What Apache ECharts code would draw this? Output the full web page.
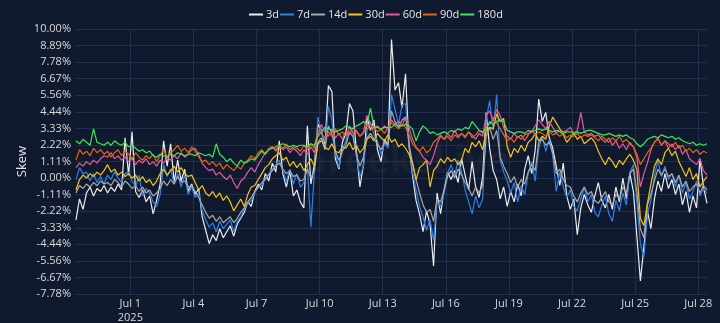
<!DOCTYPE html>
<html>
<head>
<meta charset="utf-8">
<script src="https://cdn.jsdelivr.net/npm/echarts@6/dist/echarts.min.js"></script>
<style>
html,body{margin:0;padding:0;background:#101a2e;}
#c{width:720px;height:323px;}
</style>
</head>
<body>
<div id="c"></div>
<script>
// time base: first sample Jun 28 2025 10:00 UTC, one sample every 4 hours
const startTime = Date.UTC(2025, 5, 28, 10);
const stepHours = 4;
const endTime = Date.UTC(2025, 6, 28, 10);

const seriesNames = ['3d', '7d', '14d', '30d', '60d', '90d', '180d'];
const seriesColors = ['#ececec', '#2f7fe6', '#a9a9a9', '#f5c314', '#e8589f', '#e4660f', '#45e356'];

const tickMonthDays = [1, 4, 7, 10, 13, 16, 19, 22, 25, 28];
// y gridlines are every 10/9 % from -70/9 % to 10 %
const yTickLabels = ['-7.78%','-6.67%','-5.56%','-4.44%','-3.33%','-2.22%','-1.11%','0.00%','1.11%','2.22%','3.33%','4.44%','5.56%','6.67%','7.78%','8.89%','10.00%'];

const s3d = [
-2.8,-1.4,-2.1,
-1.0,-0.6,-1.2,-0.7,-0.9,-0.5,
-1.0,-0.6,-0.9,-0.4,-0.8,2.7,
0.2,3.1,-0.9,-1.3,-0.8,-1.6,
-1.2,-2.4,-1.5,-0.4,2.5,0.8,
2.3,-0.3,1.2,-0.2,0.6,-0.9,
-0.4,-1.1,-0.7,-2.6,-3.5,-4.4,
-3.8,-4.2,-3.4,-4.0,-3.6,-3.2,
-3.9,-3.1,-2.7,-2.3,-1.6,-1.9,
-0.9,-0.4,-0.8,0.3,-0.2,1.0,
0.4,2.5,0.3,-0.6,0.5,-1.2,
-0.8,-1.6,-2.0,3.5,-0.4,0.9,
3.6,3.2,2.1,6.2,5.8,1.3,
0.6,2.4,3.0,5.0,4.5,1.8,
-0.6,0.9,4.1,3.2,3.9,1.9,
1.1,2.6,2.2,9.3,5.9,6.4,
4.7,7.0,2.1,0.2,-1.5,-2.4,
-3.6,-2.2,-3.1,-5.9,-1.0,-2.4,
-0.8,0.4,-0.1,0.5,-0.3,1.3,
0.2,-0.8,1.1,-0.6,-1.3,0.1,
4.4,2.0,0.5,-0.1,-1.4,-0.6,
-1.9,-0.9,-1.6,-0.4,-1.2,0.6,
1.5,0.3,1.9,5.3,3.8,4.4,
2.7,2.0,0.8,-0.5,1.0,-1.2,
-2.1,-1.4,-3.8,-2.0,-1.1,-1.8,
-2.3,-1.2,-0.3,-1.5,-2.0,-1.1,
-2.1,-0.6,-1.6,0.0,-1.4,0.3,
-0.9,-3.9,-6.9,-4.6,-2.2,-3.4,
-1.4,-0.2,-0.9,0.3,-0.7,-0.1,
-1.1,-0.4,-1.8,-0.9,-2.3,-1.2,
-2.0,1.3,-0.6,-1.7
];

const s7d = [
-0.1,0.7,0.3,
0.4,-0.2,0.3,-0.3,0.1,-0.4,
0.2,-0.1,0.4,0.0,-0.3,0.3,
0.4,-0.2,-0.6,0.2,-1.2,-0.7,
-1.0,-1.6,-1.9,-1.1,0.9,0.1,
0.6,-0.4,0.3,-0.6,0.2,-1.1,
-0.6,-1.3,-1.0,-2.2,-2.8,-3.3,
-3.0,-3.6,-2.9,-3.4,-3.1,-2.8,
-3.6,-2.9,-2.6,-2.1,-1.7,-1.5,
-1.0,-0.6,-0.5,0.0,0.3,0.6,
0.9,1.2,0.5,-0.2,0.6,-0.4,
0.3,-0.6,-0.3,0.8,-3.3,0.4,
4.1,3.1,1.9,4.8,3.9,1.6,
0.7,1.9,2.5,3.5,3.1,1.4,
0.1,0.8,3.2,3.8,2.9,2.5,
1.6,2.3,2.0,5.6,4.6,3.6,
4.9,5.0,2.2,0.4,-0.8,-1.9,
-2.6,-3.5,-2.8,-4.2,-1.6,-1.9,
-1.0,0.3,0.9,0.1,1.2,0.4,
-0.8,-1.6,-2.4,-1.2,-2.0,-1.4,
3.9,5.2,3.2,5.6,1.2,0.4,
-0.2,-1.0,-0.3,-1.6,-0.5,-1.1,
0.3,1.1,-0.2,2.0,2.8,1.8,
2.6,1.5,-0.9,0.4,-0.6,-1.3,
-0.8,-1.9,-2.2,-1.4,-0.6,-1.6,
-1.1,-2.3,-2.6,-1.8,-1.2,-2.4,
-2.9,-1.5,-2.2,-1.0,-1.8,0.4,
0.9,-1.6,-4.4,-5.3,-2.4,-1.5,
0.2,1.2,0.1,0.8,-0.1,0.3,
-0.6,0.2,-1.0,-0.3,-1.4,-0.9,
-0.2,-1.2,-0.7,-1.0
];

const s14d = [
-1.0,-0.5,-0.7,
-0.4,-0.6,-0.3,-0.5,-0.2,-0.4,
-0.3,-0.5,-0.1,-0.3,-0.6,-0.2,
-0.4,-0.7,-0.5,-0.9,-0.6,-1.0,
-0.8,-1.2,-1.0,-0.7,-0.2,-0.5,
-0.1,-0.4,0.1,-0.3,-0.2,-0.6,
-0.5,-0.9,-1.3,-1.8,-2.3,-2.7,
-2.5,-2.9,-2.6,-3.0,-2.8,-2.6,
-3.0,-2.7,-2.3,-2.0,-1.6,-1.3,
-0.9,-0.6,-0.3,-0.1,0.2,0.5,
0.8,1.0,0.6,0.3,0.5,0.1,
0.2,-0.2,-0.1,0.6,0.0,0.5,
2.4,2.7,1.9,3.5,3.0,1.8,
1.2,1.8,2.2,3.1,2.8,1.6,
0.8,1.4,2.7,3.0,2.6,2.3,
1.9,2.4,2.2,4.5,3.8,3.4,
3.9,4.1,2.3,1.0,-0.1,-1.0,
-1.8,-2.3,-2.1,-2.9,-1.4,-1.6,
-0.8,0.1,0.5,0.0,0.6,0.2,
-0.3,-0.7,-1.2,-0.6,-1.0,-0.5,
2.8,3.4,2.6,3.2,1.4,0.8,
0.3,-0.3,0.1,-0.6,-0.1,-0.4,
0.4,0.9,0.5,2.4,2.6,2.2,
2.4,1.7,0.3,0.6,-0.1,-0.5,
-0.6,-1.2,-1.6,-1.0,-0.6,-1.1,
-0.9,-1.5,-1.7,-1.3,-0.9,-1.6,
-1.8,-1.1,-1.4,-0.6,-1.0,0.3,
0.6,-0.9,-3.4,-4.0,-1.8,-1.1,
-0.2,0.6,0.2,0.6,0.1,0.3,
-0.3,0.2,-0.6,-0.2,-0.9,-0.6,
-0.4,-1.0,-0.5,-0.8
];

const s30d = [
-0.8,-0.1,0.2,
0.0,0.3,0.1,0.4,0.2,0.5,
0.9,0.4,0.6,0.2,0.4,0.1,
0.3,0.0,0.2,-0.2,0.1,-0.3,
-0.1,-0.5,-0.2,0.3,0.6,0.2,
0.5,0.8,0.4,0.7,0.3,0.1,
0.2,-0.3,-0.8,-0.5,-1.0,-1.2,
-0.9,-1.3,-1.0,-1.5,-1.2,-1.6,
-2.2,-1.8,-1.4,-1.9,-1.1,-0.6,
-0.5,-0.1,0.3,0.7,0.9,1.3,
1.5,1.7,1.2,1.4,0.8,1.1,
0.7,1.0,0.5,0.9,1.3,0.8,
2.3,2.5,2.1,1.9,2.3,1.8,
1.7,2.1,2.0,2.4,1.9,2.2,
1.7,2.0,2.6,2.8,2.5,3.0,
2.7,2.5,2.9,2.4,2.6,2.1,
2.3,2.0,1.6,1.0,-0.1,0.7,
0.9,1.2,-0.6,0.5,0.8,1.3,
1.0,1.4,1.1,1.3,0.9,1.2,
2.0,1.7,2.4,2.1,2.5,1.9,
3.2,3.4,3.3,4.3,3.8,4.0,
2.1,1.4,2.0,1.7,2.2,1.8,
2.4,2.6,3.0,2.5,2.8,2.6,
3.5,4.1,3.7,3.3,2.9,2.4,
2.7,3.0,2.6,2.8,2.3,2.5,
2.7,2.4,1.8,1.3,0.9,1.4,
1.1,0.7,1.2,0.9,1.3,1.6,
1.2,0.6,-2.7,-3.2,-1.7,-0.4,
0.8,1.3,0.9,1.7,2.0,1.5,
1.8,1.1,0.6,0.1,0.7,-0.1,
0.3,-0.6,-0.2,0.1
];

const s60d = [
0.7,1.0,0.8,
1.1,0.9,1.2,1.0,1.3,1.5,
1.4,1.7,1.3,1.5,1.2,1.4,
1.1,1.3,0.9,1.2,1.0,1.3,
0.9,1.1,0.8,1.2,1.0,1.4,
1.2,1.5,1.3,1.7,1.4,1.6,
1.9,2.0,1.6,1.0,0.7,0.5,
0.6,0.2,0.4,0.1,-0.1,0.2,
-0.3,-0.7,-0.2,0.0,0.4,0.7,
0.4,0.9,1.3,1.7,1.9,2.1,
1.8,2.2,1.9,2.1,1.7,2.0,
1.8,1.5,1.9,1.6,2.1,1.7,
2.9,3.6,3.1,2.8,3.3,2.7,
3.0,2.6,3.2,2.9,3.4,3.1,
2.8,3.1,4.2,3.6,3.3,3.5,
3.2,3.5,3.3,3.9,3.6,3.8,
3.5,4.1,3.4,2.6,2.1,1.8,
1.4,1.2,0.9,1.5,2.3,2.8,
2.6,3.0,2.7,3.2,2.8,3.0,
2.7,3.1,2.9,2.6,3.0,2.8,
4.2,4.5,3.9,4.6,4.2,3.4,
2.8,2.6,3.0,2.7,2.9,2.5,
2.9,3.1,3.5,3.9,3.6,3.3,
3.8,3.4,3.0,3.3,3.1,3.2,
3.4,3.0,3.2,4.4,3.1,2.9,
3.0,2.8,2.9,2.6,2.4,2.7,
2.2,2.5,2.0,2.3,1.9,2.4,
2.1,1.4,-0.6,0.3,1.0,1.9,
2.4,2.7,2.2,2.5,2.0,2.3,
1.9,2.2,1.6,1.9,1.3,1.1,
0.9,1.3,0.5,0.2
];

const s90d = [
1.2,1.9,1.6,
1.8,1.5,2.0,1.7,1.9,1.6,
1.8,1.4,1.7,1.9,1.5,1.8,
1.6,1.3,1.7,1.4,1.2,1.5,
1.3,1.6,1.1,1.5,1.9,1.4,
1.7,1.9,2.2,1.8,2.0,1.7,
2.1,1.8,1.4,1.1,1.2,0.9,
1.1,0.8,1.0,0.6,0.9,0.7,
0.5,0.8,0.6,1.0,1.2,1.5,
1.3,1.7,1.9,1.6,2.0,2.1,
1.9,2.2,2.0,2.3,1.9,2.1,
2.0,1.8,2.2,1.9,2.3,2.0,
3.2,3.0,2.7,3.1,2.8,3.3,
2.9,3.1,2.8,3.4,3.0,3.2,
2.8,3.0,3.6,3.2,3.4,3.1,
3.3,3.0,3.4,3.7,3.5,3.3,
3.6,3.4,2.9,2.3,2.0,1.8,
2.1,1.7,1.9,2.4,2.6,2.9,
2.6,2.8,2.5,2.9,2.7,3.0,
2.8,3.1,2.7,2.9,3.2,3.0,
3.4,3.6,3.9,3.7,3.3,2.9,
2.5,2.7,2.4,2.8,2.6,2.9,
3.0,3.2,2.9,3.1,3.0,2.8,
3.1,2.9,3.0,2.8,3.0,2.7,
2.9,2.8,3.0,2.7,2.9,2.8,
2.9,2.7,2.5,2.8,2.6,2.4,
2.7,2.5,2.8,2.4,2.6,2.3,
2.1,1.6,0.9,1.3,1.7,2.0,
2.4,2.6,2.2,2.5,2.3,2.1,
2.4,2.0,2.2,1.8,2.0,1.7,
1.9,1.6,1.8,1.7
];

const s180d = [
2.5,2.3,2.6,
2.4,2.2,3.3,2.4,2.3,2.2,
2.4,2.2,2.5,2.3,2.2,2.4,
2.1,2.2,2.0,1.8,1.9,1.7,
1.8,1.5,1.4,1.6,1.5,1.4,
1.6,1.5,1.7,1.6,1.5,1.6,
1.6,1.5,1.7,1.6,1.5,1.6,
1.4,2.3,1.6,1.4,1.1,1.3,
1.0,0.8,1.2,1.0,1.1,1.3,
1.2,1.5,1.8,1.6,1.9,2.0,
2.1,2.2,2.3,2.2,2.1,2.2,
2.1,2.2,2.2,2.1,2.3,2.2,
2.8,3.1,3.4,3.3,3.2,3.1,
3.2,3.3,3.5,3.4,3.3,3.5,
3.6,3.8,3.6,4.7,3.4,3.4,
3.3,3.4,3.4,3.4,3.6,3.5,
3.5,3.6,3.5,3.3,2.5,3.1,
3.5,3.3,3.0,3.1,2.9,3.0,
3.1,3.0,3.2,3.1,3.3,3.2,
3.4,3.3,3.8,3.5,3.2,3.1,
3.3,3.8,3.6,3.8,3.9,3.8,
3.2,3.1,3.0,3.1,3.1,3.0,
3.2,3.1,3.2,3.3,3.2,3.3,
3.2,3.1,3.2,3.1,3.0,3.1,
3.1,3.0,3.1,3.0,3.1,3.2,
3.2,3.1,3.0,2.9,2.9,3.0,
2.9,2.8,2.9,2.8,2.9,2.7,
2.6,2.3,2.1,2.3,2.6,2.7,
2.8,2.7,2.9,2.8,2.7,2.8,
2.6,2.7,2.5,2.4,2.3,2.4,
2.2,2.3,2.2,2.3
];

const allValues = [s3d, s7d, s14d, s30d, s60d, s90d, s180d];
const stepMs = stepHours * 3600 * 1000;
const tickTimes = tickMonthDays.map(d => Date.UTC(2025, 6, d));
// the y axis is measured in grid steps of 10/9 %, so its ticks fall on whole numbers
const pctPerStep = 10 / 9;

const font = '"Open Sans", "DejaVu Sans", sans-serif';
const chart = echarts.init(document.getElementById('c'), null, {renderer: 'canvas'});

chart.setOption({
  backgroundColor: '#101a2e',
  animation: false,
  color: seriesColors,
  graphic: [{
    type: 'text',
    left: 300,
    top: 143,
    z: 0,
    style: {
      text: 'GreeksLive',
      fill: 'rgba(150,160,185,0.06)',
      font: 'bold 38px ' + font
    }
  }],
  legend: {
    left: 244,
    top: 4,
    icon: 'rect',
    itemWidth: 14,
    itemHeight: 2,
    itemGap: 1,
    textStyle: {color: '#e6e6e6', fontSize: 11, fontFamily: font, padding: [0, 0, 0, -2]},
    data: seriesNames
  },
  grid: {left: 76, right: 13, top: 29, bottom: 29, containLabel: false, outerBoundsMode: 'none'},
  xAxis: {
    type: 'value',
    min: startTime,
    max: endTime,
    axisLine: {show: false},
    axisTick: {show: false, customValues: tickTimes},
    splitLine: {show: true, lineStyle: {color: '#24304b', width: 1}},
    axisLabel: {
      customValues: tickTimes,
      color: '#d8d8d8',
      fontSize: 11,
      fontFamily: font,
      margin: 3,
      lineHeight: 14,
      formatter: function (v) {
        const d = new Date(v);
        const day = d.getUTCDate();
        if (day === tickMonthDays[0]) return 'Jul ' + day + '\n2025';
        return 'Jul ' + day;
      }
    }
  },
  yAxis: {
    type: 'value',
    min: -7,
    max: 9,
    interval: 1,
    name: 'Skew',
    nameLocation: 'middle',
    nameGap: 47,
    nameMoveOverlap: false,
    nameTextStyle: {color: '#e6e6e6', fontSize: 13, fontFamily: font},
    axisLine: {show: false},
    axisTick: {show: false},
    splitLine: {show: true, lineStyle: {color: '#24304b', width: 1}},
    axisLabel: {
      color: '#d8d8d8',
      fontSize: 11,
      fontFamily: font,
      margin: 5,
      formatter: function (v) {
        return yTickLabels[Math.round(v) + 7];
      }
    }
  },
  series: seriesNames.map((name, si) => ({
    name: name,
    type: 'line',
    symbol: 'none',
    z: 2 + si,
    lineStyle: {width: 1.2, color: seriesColors[si]},
    data: allValues[si].map((v, i) => [startTime + i * stepMs, v / pctPerStep])
  }))
});
</script>
</body>
</html>
